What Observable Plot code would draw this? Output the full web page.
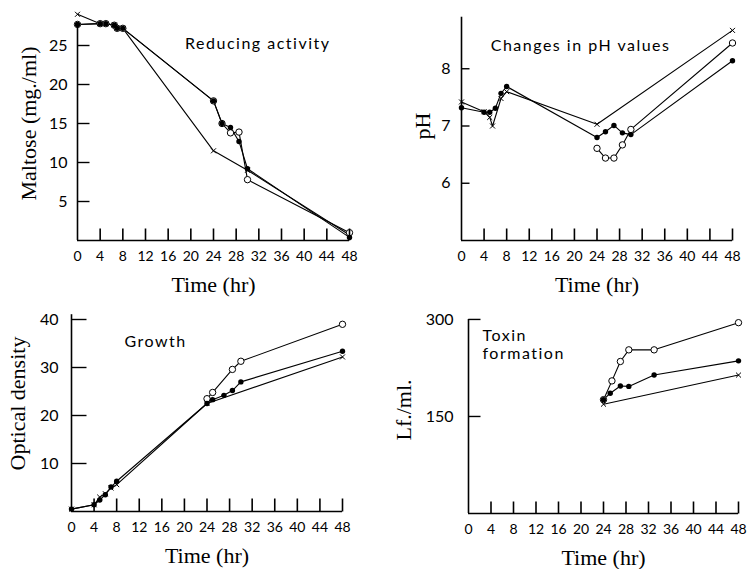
<!DOCTYPE html>
<html><head><meta charset="utf-8">
<script src="https://cdn.jsdelivr.net/npm/d3@7"></script>
<script src="https://cdn.jsdelivr.net/npm/@observablehq/plot@0.6"></script>
<style>
body{margin:0;background:#fff}
#wrap{position:relative;width:749px;height:569px;background:#fff;overflow:hidden}
.p{position:absolute}
</style>
</head><body><div id="wrap"></div>
<script>
// ---- tick labels ----
const hours = [0,4,8,12,16,20,24,28,32,36,40,44,48];
const maltoseTicks = [5,10,15,20,25];
const phTicks = [6,7,8];
const growthTicks = [10,20,30,40];
const toxinTicks = [150,300];

// ---- data: [time (hr), value] ----
const maltoseFilled = [[0,27.7],[4,27.8],[5,27.8],[6.5,27.6],[7,27.2],[8,27.2],[24,17.9],[25.5,15.0],[27,14.5],[28.5,12.7],[30,9.2],[48,0.4]];
const maltoseOpen   = [[0,27.7],[4,27.8],[5,27.8],[6.5,27.6],[7,27.2],[8,27.2],[24,17.9],[25.5,15.0],[27,13.8],[28.5,13.9],[30,7.8],[48,1.0]];
const maltoseCross  = [[0,29.0],[4,27.8],[5,27.8],[6.5,27.6],[7,27.2],[8,27.2],[24,11.5],[30,9.0],[48,0.7]];

const phFilled = [[0,7.32],[4,7.24],[5,7.24],[6,7.31],[7,7.57],[8,7.69],[24,6.80],[25.5,6.90],[27,7.01],[28.5,6.88],[30,6.85],[48,8.14]];
const phOpen   = [[24,6.61],[25.5,6.44],[27,6.44],[28.5,6.67],[30,6.94],[48,8.45]];
const phCross  = [[0,7.42],[4,7.25],[5,7.15],[5.5,7.0],[7,7.48],[8,7.6],[24,7.03],[48,8.67]];

const growthFilled = [[0,0.5],[4,1.4],[5,2.4],[6,3.5],[7,5.1],[8,6.3],[24,22.5],[25,23.3],[27,24.2],[28.5,25.2],[30,27.0],[48,33.4]];
const growthOpen   = [[24,23.5],[25,24.8],[28.5,29.6],[30,31.3],[48,39.0]];
const growthCross  = [[0,0.5],[4,1.4],[5,3.0],[6,3.7],[7,4.9],[8,5.6],[24,22.5],[48,32.2]];

const toxinOpen   = [[24,176],[25.5,205],[27,235],[28.5,253],[33,253],[48,295]];
const toxinFilled = [[24,176],[25.2,186],[27,197],[28.5,196.5],[33,214],[48,236]];
const toxinCross  = [[24,169],[48,214]];

const SANS = "Lato, 'Open Sans', sans-serif";
const SERIF = "'Liberation Serif', 'DejaVu Serif', serif";

function seriesMarks(filled, open, cross) {
  const X = d => d[0], Y = d => d[1];
  return [
    Plot.line(cross, {x: X, y: Y, stroke: "black", strokeWidth: 1.1}),
    Plot.line(open, {x: X, y: Y, stroke: "black", strokeWidth: 1.1}),
    Plot.line(filled, {x: X, y: Y, stroke: "black", strokeWidth: 1.1}),
    Plot.dot(cross, {x: X, y: Y, symbol: "times", r: 2.4, stroke: "black", strokeWidth: 1}),
    Plot.dot(open, {x: X, y: Y, r: 3.2, fill: "white", stroke: "black", strokeWidth: 1}),
    Plot.dot(filled, {x: X, y: Y, r: 2.7, fill: "black", stroke: "none"})
  ];
}

function panel(c) {
  const y0 = c.yDomain[0];
  // tick lengths are given in pixels and converted into data units of each scale
  const pxPerY = (c.height - c.mT - c.mB) / (c.yDomain[1] - c.yDomain[0]);
  const pxPerX = (c.width - c.mL - c.mR) / 48;
  const xTickTop = y0 + c.xTickLen / pxPerY;
  const yTickEnd = c.yTickLen / pxPerX;
  const xTickRows = hours.slice(1).map(t => ({t}));
  const yTickRows = c.yTicks.map(v => ({v}));
  const chart = Plot.plot({
    width: c.width, height: c.height,
    marginLeft: c.mL, marginRight: c.mR, marginTop: c.mT, marginBottom: c.mB,
    style: {background: "transparent", color: "black", fontFamily: SANS, overflow: "visible"},
    x: {domain: [0, 48]},
    y: {domain: c.yDomain},
    marks: [
      // tick labels and axis titles
      Plot.axisX({ticks: hours, tickSize: 0, tickPadding: 11, fontSize: 14, label: null, tickFormat: d => String(d)}),
      Plot.axisY({ticks: c.yTicks, tickSize: 0, tickPadding: c.yPad, fontSize: 16, label: null, tickFormat: d => String(d)}),
      Plot.text(["Time (hr)"], {frameAnchor: "bottom", dy: 44, textAnchor: "middle", lineAnchor: "middle", fontFamily: SERIF, fontSize: 22, fill: "black"}),
      Plot.text([c.yLabel], {frameAnchor: "left", dx: c.yLabelDx, rotate: -90, textAnchor: "middle", lineAnchor: "middle", fontFamily: SERIF, fontSize: 22, fill: "black"}),
      Plot.text([c.title], {frameAnchor: c.titleAnchor, dx: c.titleDx, dy: c.titleDy, textAnchor: c.titleTextAnchor, lineAnchor: c.titleLineAnchor || "middle", lineHeight: 1.1, fontFamily: SANS, fontSize: 16, fill: "black"}),
      ...seriesMarks(c.filled, c.open, c.cross),
      // axis lines
      Plot.ruleY([y0], {x1: 0, x2: 48, stroke: "black", strokeWidth: 1.6}),
      Plot.ruleX([0], {y1: y0, y2: c.axisTop, stroke: "black", strokeWidth: 1.6}),
      // inward x ticks (link segments)
      Plot.link(xTickRows, {x1: d => d.t, x2: d => d.t, y1: d => y0, y2: d => xTickTop, stroke: "black", strokeWidth: 1.6}),
      // inward y ticks (link segments)
      Plot.link(yTickRows, {x1: d => 0, x2: d => yTickEnd, y1: d => d.v, y2: d => d.v, stroke: "black", strokeWidth: 1.4})
    ]
  });
  const titleLines = c.title.split("\n");
  chart.querySelectorAll("text, tspan").forEach(t => {
    if (titleLines.includes(t.textContent) || t.textContent === titleLines.join("")) t.style.letterSpacing = "1.5px";
  });
  const div = document.createElement("div");
  div.className = "p";
  div.style.left = c.left + "px";
  div.style.top = c.top + "px";
  div.appendChild(chart);
  document.getElementById("wrap").appendChild(div);
  return chart;
}

const panels = [
  {left: 0, top: 0, width: 370, height: 285, mL: 77, mR: 21, mT: 6, mB: 45,
   yDomain: [0, 30], axisTop: 27.6, yTicks: maltoseTicks, yPad: 10, yTickLen: 12, xTickLen: 12,
   yLabel: "Maltose (mg./ml)", yLabelDx: -49,
   title: "Reducing activity", titleAnchor: "top-right", titleDx: -19, titleDy: 37, titleTextAnchor: "end",
   filled: maltoseFilled, open: maltoseOpen, cross: maltoseCross},
  {left: 370, top: 0, width: 379, height: 285, mL: 91, mR: 17, mT: 11, mB: 45,
   yDomain: [5, 9], axisTop: 8.9, yTicks: phTicks, yPad: 11, yTickLen: 8, xTickLen: 12,
   yLabel: "pH", yLabelDx: -39,
   title: "Changes in pH values", titleAnchor: "top-right", titleDx: -62, titleDy: 34, titleTextAnchor: "end",
   filled: phFilled, open: phOpen, cross: phCross},
  {left: 0, top: 285, width: 370, height: 284, mL: 71, mR: 28, mT: 10, mB: 58,
   yDomain: [0, 45], axisTop: 41, yTicks: growthTicks, yPad: 13, yTickLen: 15, xTickLen: 13,
   yLabel: "Optical density", yLabelDx: -54,
   title: "Growth", titleAnchor: "top-left", titleDx: 53, titleDy: 46, titleTextAnchor: "start",
   filled: growthFilled, open: growthOpen, cross: growthCross},
  {left: 370, top: 285, width: 379, height: 284, mL: 98, mR: 11, mT: 21, mB: 56,
   yDomain: [0, 320], axisTop: 300, yTicks: toxinTicks, yPad: 15, yTickLen: 12, xTickLen: 12,
   yLabel: "Lf./ml.", yLabelDx: -65,
   title: "Toxin\nformation", titleAnchor: "top-left", titleDx: 14, titleDy: 22, titleTextAnchor: "start", titleLineAnchor: "top",
   filled: toxinFilled, open: toxinOpen, cross: toxinCross}
];
panels.forEach(panel);
</script>
</body></html>
